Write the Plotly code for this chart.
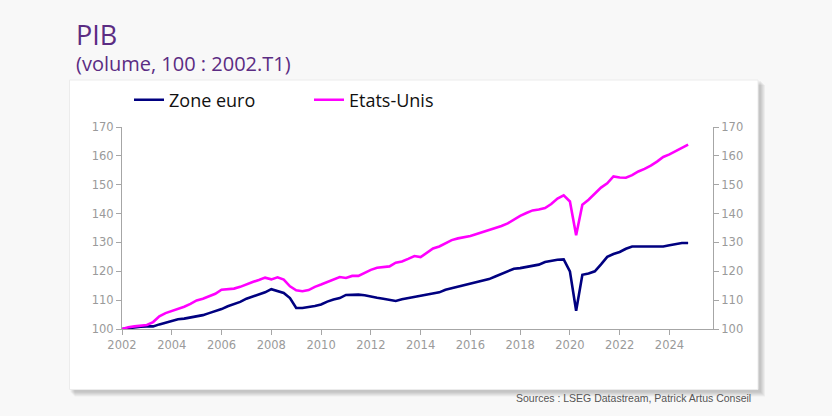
import plotly.graph_objects as go

# Quarterly index, 100 = 2002.Q1, from 2002Q1 to 2024Q4
years = list(range(2002, 2025))
zone_euro = [
    100.0, 100.3, 100.6, 100.8,
    100.9, 100.9, 101.6, 102.2,
    102.8, 103.4, 103.6, 104.0,
    104.3, 104.8, 105.5, 106.2,
    106.9, 107.9, 108.6, 109.4,
    110.5, 111.2, 112.0, 112.7,
    113.8, 113.1, 112.5, 110.7,
    107.3, 107.3, 107.6, 108.0,
    108.5, 109.5, 110.2, 110.7,
    111.8, 111.9, 111.9, 111.7,
    111.2, 110.8, 110.5, 110.1,
    109.7, 110.3, 110.7, 111.0,
    111.4, 111.8, 112.2, 112.7,
    113.6, 114.1, 114.6, 115.1,
    115.7, 116.1, 116.6, 117.3,
    118.2, 119.1, 119.9, 120.9,
    121.1, 121.5, 121.8, 122.3,
    123.2, 123.7, 124.0, 124.1,
    120.0, 106.3, 118.8, 119.2,
    120.0, 122.4, 125.0, 126.0,
    126.7, 127.8, 128.6, 128.6,
    128.5, 128.6, 128.6, 128.6,
    129.0, 129.3, 129.8, 129.8,
]
etats_unis = [
    100.0, 100.6, 100.9, 101.1,
    101.4, 102.4, 104.4, 105.5,
    106.2, 106.9, 107.7, 108.7,
    109.9, 110.5, 111.3, 112.2,
    113.6, 113.9, 114.0, 114.6,
    115.5, 116.3, 117.0, 117.8,
    117.2, 117.9, 117.1, 114.8,
    113.4, 113.1, 113.5, 114.6,
    115.4, 116.3, 117.2, 118.0,
    117.7, 118.4, 118.4, 119.5,
    120.5, 121.2, 121.4, 121.7,
    123.0, 123.4, 124.3, 125.3,
    124.9, 126.5, 127.9, 128.6,
    129.8, 130.8, 131.4, 131.8,
    132.2, 132.9, 133.6, 134.1,
    134.8, 135.7, 136.6, 138.0,
    139.2, 140.2, 141.1, 141.4,
    141.9, 143.3, 145.2, 146.3,
    144.2, 132.5, 143.1, 144.8,
    146.8, 149.0, 150.5, 152.9,
    152.5, 152.4, 153.3, 154.6,
    155.5, 156.6, 158.0, 159.6,
    160.5, 161.7, 162.8, 163.9,
]
dates = [y + q / 4 for y in years for q in range(4)]
x_ticks = list(range(2002, 2025, 2))
y_ticks = list(range(100, 171, 10))

W, H = 832, 416
L, R, T, B = 122, 119, 127, 87
pw, ph = W - L - R, H - T - B


def px(x):
    return (x - L) / pw


def py(y):
    return (H - B - y) / ph


fig = go.Figure()
fig.add_trace(go.Scatter(x=dates, y=zone_euro, name="Zone euro", mode="lines",
                         line=dict(color="#000080", width=2.6)))
fig.add_trace(go.Scatter(x=dates, y=etats_unis, name="Etats-Unis", mode="lines",
                         line=dict(color="#ff00ff", width=2.6), yaxis="y2"))

tickfont = dict(family="DejaVu Sans", size=11.5, color="#9a9a9a")
axcommon = dict(showgrid=False, zeroline=False, showline=True, linecolor="#a6a6a6",
                linewidth=1, ticks="outside", ticklen=5, tickcolor="#a6a6a6",
                tickfont=tickfont)

fig.update_layout(
    width=W, height=H,
    margin=dict(l=L, r=R, t=T, b=B),
    paper_bgcolor="#f8f8f8",
    plot_bgcolor="rgba(0,0,0,0)",
    xaxis=dict(range=[2002, 2025.75], tickvals=x_ticks, **axcommon),
    yaxis=dict(range=[100, 170], tickvals=y_ticks, **axcommon),
    yaxis2=dict(range=[100, 170], tickvals=y_ticks, overlaying="y", side="right", **axcommon),
    showlegend=True,
    legend=dict(orientation="h", x=px(129), y=py(100), xanchor="left", yanchor="middle",
                font=dict(family="Open Sans", size=18, color="#111111"),
                bgcolor="rgba(0,0,0,0)", entrywidth=135, entrywidthmode="pixels",
                itemwidth=30, tracegroupgap=0),
)

# panel shadow and white panel
for i in range(5):
    d = i + 1
    fig.add_shape(type="rect", xref="paper", yref="paper", layer="below",
                  x0=px(69.5 + d), x1=px(758 + d + 2), y0=py(389.5 + d + 2), y1=py(80 + d),
                  line=dict(width=0), fillcolor="rgba(0,0,0,0.045)")
fig.add_shape(type="rect", xref="paper", yref="paper", layer="below",
              x0=px(69.5), x1=px(758), y0=py(389.5), y1=py(80),
              line=dict(color="#ececec", width=1), fillcolor="#ffffff")

fig.add_annotation(text="<span style='font-size:27px'>PIB</span><br>(volume, 100 : 2002.T1)",
                   xref="paper", yref="paper", x=px(74), y=py(46),
                   xanchor="left", yanchor="middle", align="left", showarrow=False,
                   font=dict(family="Open Sans", size=20, color="#5b2c83"))
fig.add_annotation(text="Sources : LSEG Datastream, Patrick Artus Conseil", xref="paper", yref="paper",
                   x=px(753), y=py(398), xanchor="right", yanchor="middle", showarrow=False,
                   font=dict(family="Liberation Sans Narrow, Liberation Sans", size=10.5, color="#555555"))

fig.write_html("out.html")
